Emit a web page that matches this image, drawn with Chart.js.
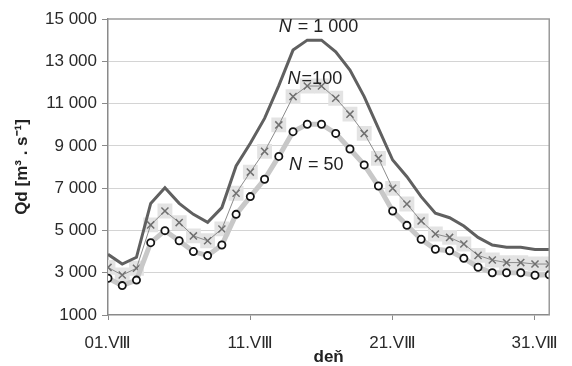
<!DOCTYPE html>
<html>
<head>
<meta charset="utf-8">
<script src="https://cdn.jsdelivr.net/npm/chart.js@4/dist/chart.umd.min.js"></script>
<style>
html,body{margin:0;padding:0;background:#fff;}
#wrap{width:572px;height:366px;}
</style>
</head>
<body>
<div id="wrap"><canvas id="c" width="572" height="366"></canvas></div>
<script>
// ---- data ----
const days = [1,2,3,4,5,6,7,8,9,10,11,12,13,14,15,16,17,18,19,20,21,22,23,24,25,26,27,28,29,30,31,32];
const qN1000 = [3870,3410,3730,6280,7020,6280,5760,5380,6080,8050,9120,10300,11850,13530,14000,14000,13450,12590,11330,9830,8330,7540,6600,5810,5600,5210,4670,4310,4200,4200,4100,4100];
const qN100  = [3250,2890,3210,5260,5920,5370,4740,4510,5070,6760,7760,8740,9990,11330,11830,11830,11250,10500,9590,8410,6990,6250,5450,4830,4670,4360,3820,3600,3480,3480,3410,3410];
const qN50   = [2740,2390,2650,4420,4990,4510,4000,3810,4310,5760,6600,7420,8500,9670,10020,10020,9590,8850,8100,7100,5920,5240,4580,4110,4040,3680,3260,3000,3000,3000,2880,2900];
const xTickValues = [1,11,21,31];
const xTickLabels = ['01.V\u2162','11.V\u2162','21.V\u2162','31.V\u2162'];
const yTickValues = [1000,3000,5000,7000,9000,11000,13000,15000];
const yTickLabels = ['1000','3 000','5 000','7 000','9 000','11 000','13 000','15 000'];
const seriesNames = ['1 000','100','50'];
const xTitle = 'de\u0148';
const yTitle = 'Qd [m\u00B3 . s\u207B\u00B9]';

const pts = arr => days.map((d,i)=>({x:d,y:arr[i]}));
const FONT = "'Liberation Sans', Arial, sans-serif";

// annotation anchors (in data units): day, value
const annAnchors = [[15.75,14600],[15.5,12150],[15.6,8100]];

const annotationPlugin = {
  id:'ann',
  afterDatasetsDraw(chart){
    const {ctx, chartArea:a, scales:{x,y}} = chart;
    ctx.save();
    // frame top/right
    ctx.strokeStyle='#9a9a9a'; ctx.lineWidth=1.5;
    ctx.beginPath();
    ctx.moveTo(a.left, a.top); ctx.lineTo(a.right, a.top); ctx.lineTo(a.right, a.bottom);
    ctx.stroke();
    ctx.fillStyle='#222';
    ctx.textBaseline='middle';
    seriesNames.forEach((name,i)=>{
      const cx = x.getPixelForValue(annAnchors[i][0]);
      const cy = y.getPixelForValue(annAnchors[i][1]);
      const fi = 'italic 18px ' + FONT, fn = '18px ' + FONT;
      const rest = (i===1 ? '=' : ' = ') + name;
      ctx.font = fi; const w1 = ctx.measureText('N').width;
      ctx.font = fn; const w2 = ctx.measureText(rest).width;
      let sx = cx - (w1+w2)/2;
      ctx.font = fi; ctx.textAlign='left'; ctx.fillText('N', sx, cy);
      ctx.font = fn; ctx.fillText(rest, sx + w1 + 1, cy);
    });
    ctx.restore();
  }
};

new Chart(document.getElementById('c'), {
  type:'line',
  data:{
    datasets:[
      { label:'N = 50', data:pts(qN50), order:1,
        borderColor:'#c8c8c8', borderWidth:5, tension:0,
        pointStyle:'circle', pointRadius:3.6, pointBorderWidth:1.8,
        pointBorderColor:'#151515', pointBackgroundColor:'#ffffff' },
      { label:'N = 1 000', data:pts(qN1000), order:2,
        borderColor:'#606060', borderWidth:3, tension:0, pointRadius:0 },
      { label:'N = 100', data:pts(qN100), order:3,
        borderColor:'#8c8c8c', borderWidth:1, tension:0,
        pointStyle:'crossRot', pointRadius:5, pointBorderWidth:1.5,
        pointBorderColor:'#707070', pointBackgroundColor:'#707070' },
      { label:'N = 100 bg', data:pts(qN100), order:4, showLine:false,
        pointStyle:'rect', pointRadius:10.5, pointBorderWidth:0,
        pointBackgroundColor:'#e3e3e3', pointBorderColor:'#e3e3e3' }
    ]
  },
  options:{
    responsive:false, animation:false,
    layout:{padding:{top:19,right:16,left:0,bottom:0}},
    plugins:{legend:{display:false}, tooltip:{enabled:false}},
    scales:{
      x:{ type:'linear', min:1, max:32,
        afterBuildTicks(s){ s.ticks = xTickValues.map(v=>({value:v})); },
        afterFit(s){ s.height = 51; },
        ticks:{ autoSkip:false, maxRotation:0, padding:13, color:'#2a2a2a',
          font:{family:FONT,size:17},
          callback(v){ const i = xTickValues.indexOf(v); return i>=0 ? xTickLabels[i] : ''; } },
        grid:{ drawOnChartArea:false, drawTicks:true, tickLength:5, color:'#8a8a8a', lineWidth:1 },
        border:{ display:true, color:'#8a8a8a', width:1.5 },
        title:{ display:true, text:xTitle, color:'#222', padding:{top:0,bottom:0},
          font:{family:FONT,size:17,weight:'bold',lineHeight:1.0} }
      },
      y:{ type:'linear', min:1000, max:15000,
        afterBuildTicks(s){ s.ticks = yTickValues.map(v=>({value:v})); },
        afterFit(s){ s.width = 108; },
        ticks:{ padding:5, color:'#2a2a2a', font:{family:FONT,size:17},
          callback(v){ const i = yTickValues.indexOf(v); return i>=0 ? yTickLabels[i] : ''; } },
        grid:{ drawTicks:true, tickLength:6,
          color(ctx){ const v = ctx.tick && ctx.tick.value; return (v===1000||v===15000) ? 'rgba(0,0,0,0)' : '#d4d4d4'; },
          tickColor:'#8a8a8a', borderDash:[8,6], tickBorderDash:[], lineWidth:1 },
        border:{ display:true, color:'#8a8a8a', width:1.5 },
        title:{ display:true, text:yTitle, color:'#222', padding:{top:12,bottom:0},
          font:{family:FONT,size:17,weight:'bold',lineHeight:1.2} }
      }
    }
  },
  plugins:[annotationPlugin]
});
</script>
</body>
</html>
